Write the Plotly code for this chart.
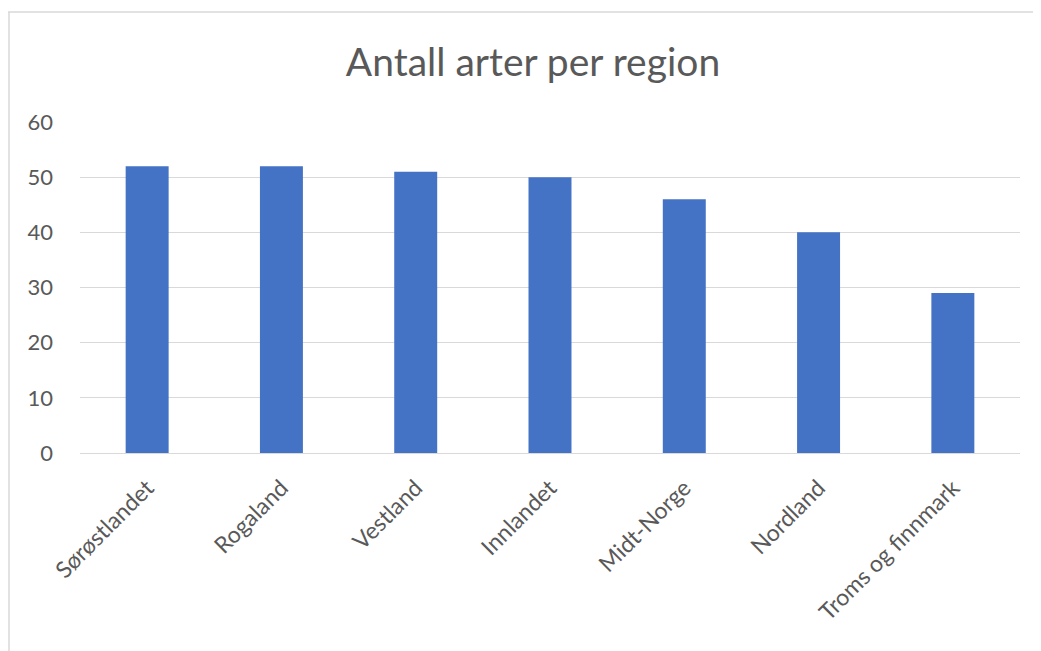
import plotly.graph_objects as go

regions = ["Sørøstlandet", "Rogaland", "Vestland", "Innlandet", "Midt-Norge", "Nordland", "Troms og finnmark"]
species_counts = [52, 52, 51, 50, 46, 40, 29]
y_ticks = [0, 10, 20, 30, 40, 50, 60]

OFF = 8  # page body margin
W, H = 1041 - OFF, 651 - OFF
L, R, T, B = 80 - OFF, 21, 122 - OFF, 198

fig = go.Figure(go.Bar(
    x=regions, y=species_counts,
    marker=dict(color="#4472C4", line=dict(width=0)),
    width=0.32,
))

pw = W - L - R
ph = H - T - B
fig.update_layout(
    width=W, height=H,
    margin=dict(l=L, r=R, t=T, b=B),
    paper_bgcolor="white", plot_bgcolor="white",
    font=dict(family="Lato, 'Open Sans', sans-serif", color="#595959"),
    title=dict(text="Antall arter per region", x=(533 - OFF) / W, xanchor="center",
               xref="container", y=1 - (62 - OFF) / H, yanchor="middle", yref="container",
               font=dict(size=39, color="#595959")),
    showlegend=False,
    xaxis=dict(tickangle=-45, tickfont=dict(size=23, color="#595959"),
               showgrid=False, showline=False, ticks="", ticklen=0,
               ticklabelstandoff=16),
    yaxis=dict(range=[0, 60], tickvals=y_ticks, tickfont=dict(size=22, color="#595959"),
               showgrid=True, gridcolor="#d9d9d9", gridwidth=1,
               zeroline=True, zerolinecolor="#d9d9d9", zerolinewidth=1,
               showline=False, ticks="", ticklabelstandoff=26),
    shapes=[
        dict(type="line", xref="paper", yref="paper",
             x0=(0 - L) / pw, x1=(W + 5 - L) / pw,
             y0=1 + (T - 4) / ph, y1=1 + (T - 4) / ph,
             line=dict(color="#d9d9d9", width=1.5)),
        dict(type="line", xref="paper", yref="paper",
             x0=(1 - L) / pw, x1=(1 - L) / pw,
             y0=1 + (T - 4) / ph, y1=-(H + 5 - T - ph) / ph,
             line=dict(color="#d9d9d9", width=1.5)),
    ],
)
fig.write_html("out.html")
